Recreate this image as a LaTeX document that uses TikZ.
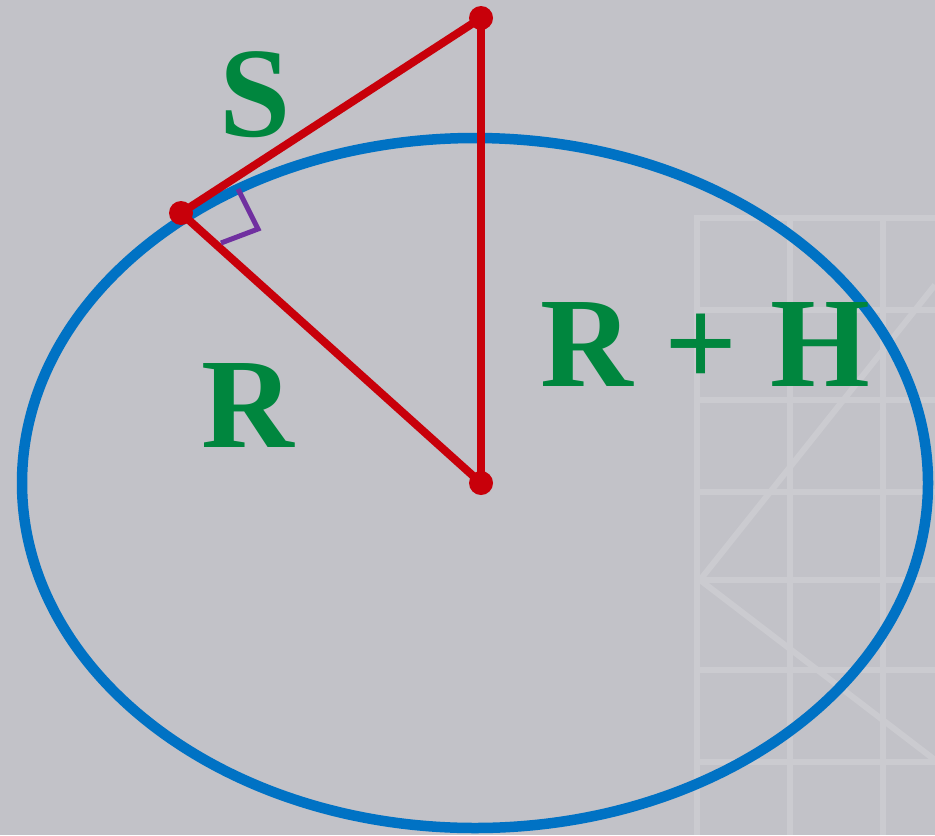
\documentclass[tikz,border=0pt]{standalone}
\usepackage{fontspec}
\setmainfont{Liberation Serif}
\definecolor{bgc}{RGB}{194,194,200}
\definecolor{gridc}{RGB}{203,203,208}
\definecolor{earth}{RGB}{0,114,196}
\definecolor{redc}{RGB}{200,0,10}
\definecolor{greenc}{RGB}{0,134,62}
\definecolor{purplec}{RGB}{112,48,160}
\begin{document}
\begin{tikzpicture}[x=0.02cm,y=-0.02cm,
  gridline/.style={draw=gridc,line width=6*0.02cm},
  seg/.style={draw=redc,line width=8*0.02cm},
  vertex/.style={circle,fill=redc,inner sep=0pt,minimum size=24*0.02cm},
  lbl/.style={text=greenc,font=\fontsize{73}{73}\selectfont\bfseries,inner sep=0pt}]
\fill[bgc] (0,0) rectangle (935,835);
\useasboundingbox (0,0) rectangle (935,835);
% faint background grid
\foreach \x in {697,790,883} \draw[gridline] (\x,215) -- (\x,835);
\foreach \y in {218,310,400,492,580,670,762} \draw[gridline] (695,\y) -- (935,\y);
\draw[gridline] (700,580) -- (935,285);
\draw[gridline] (700,580) -- (935,760);
% earth
\draw[earth,line width=10.5*0.02cm] (475,483) ellipse [x radius=453, y radius=345];
% triangle
\node[vertex] (top) at (481,18) {};
\node[vertex] (tan) at (181,213) {};
\node[vertex] (ctr) at (481,483) {};
\draw[seg] (tan.center) -- (top.center);
\draw[seg] (top.center) -- (ctr.center);
\draw[seg] (tan.center) -- (ctr.center);
% right angle mark
\coordinate (ra1) at (238,189);
\coordinate (ra2) at (258,229);
\coordinate (ra3) at (221,243);
\draw[purplec,line width=5*0.02cm] (ra1) -- (ra2) -- (ra3);
% labels
\node[lbl] (s) at (255,95) {S};
\node[lbl] (r) at (248,405) {R};
\node[lbl] (rh) at (705,345) {R + H};
\end{tikzpicture}
\end{document}
